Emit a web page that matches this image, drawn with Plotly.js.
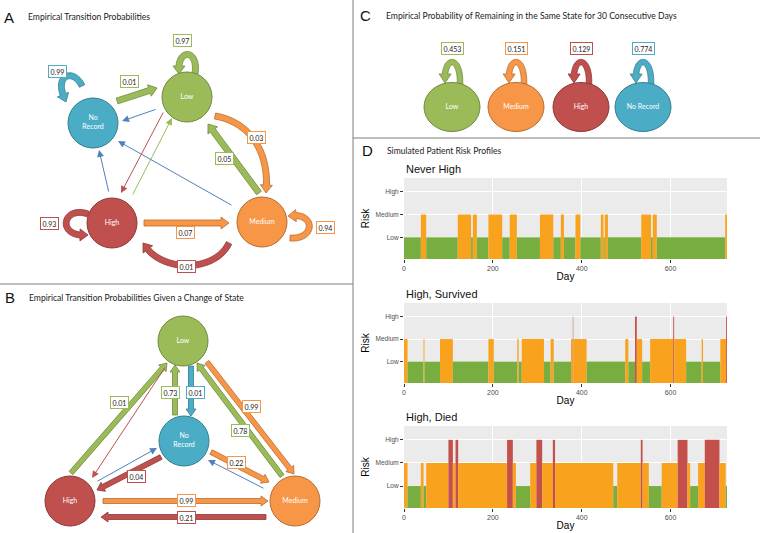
<!DOCTYPE html>
<html><head><meta charset="utf-8">
<script src="https://cdn.plot.ly/plotly-3.0.1.min.js"></script>
<style>html,body{margin:0;padding:0;background:#fff}</style>
</head><body><div id="chart" style="width:760px;height:533px"></div>
<script>
// ================= DATA =================
// Panel A: empirical transition probabilities (null = drawn without a label)
const aFrom = ["No Record","Low","No Record","Low","Medium","High","Medium","High","Medium","Low","Low","High","High","Medium"];
const aTo   = ["No Record","Low","Low","Medium","Low","High","Medium","Medium","High","No Record","High","Low","No Record","No Record"];
const aProb = [0.99,0.97,0.01,0.03,0.05,0.93,0.94,0.07,0.01,null,null,null,null,null];

// Panel B: transition probabilities given a change of state
const bFrom = ["High","No Record","Low","Low","Medium","No Record","No Record","High","Medium","Low","High","Medium"];
const bTo   = ["Low","Low","No Record","Medium","Low","Medium","High","Medium","High","High","No Record","No Record"];
const bProb = [0.01,0.73,0.01,0.99,0.78,0.22,0.04,0.99,0.21,null,null,null];

// Panel C: probability of remaining in the same state for 30 consecutive days
const cStates = ["Low","Medium","High","No Record"];
const cProb   = [0.453,0.151,0.129,0.774];

// Panel D: simulated patient risk profiles (run starts in days, state of each run)
const riskLevels = ["Low","Medium","High"];
const lastDay = 727;
const neverHighStart = [0,38,50,121,151,155,164,190,221,238,254,306,336,353,360,386,397,443,449,452,459,534,556,560,569,723];
const neverHighState = ["L","M","L","M","L","M","L","M","L","M","L","M","L","M","L","M","L","M","L","M","L","M","L","M","L","M"];
const survivedStart = [0,8,44,46,81,110,190,202,255,258,265,315,330,337,376,380,381,411,498,505,520,524,536,554,606,608,635,670,673,712,725];
const survivedState = ["M","L","M","L","M","L","M","L","M","L","M","L","M","L","M","H","M","L","M","L","H","M","L","M","H","M","L","M","L","M","H"];
const diedStart = [0,8,38,44,50,100,110,116,122,232,245,252,284,298,311,335,340,471,480,533,537,551,580,616,638,644,662,677,710,724];
const diedState = ["M","L","M","L","M","H","M","H","M","H","M","L","M","H","M","H","M","L","M","H","M","L","M","H","M","L","M","H","M","L"];
const profileTitles = ["Never High","High, Survived","High, Died"];
const dayTicks = [0,200,400,600];

// ================= STYLE / GEOMETRY =================
const FONT = "Lato, 'Open Sans', sans-serif";
const GG = "'Liberation Sans', Arial, sans-serif";
const fill = {"Low":"#9BBB59","Medium":"#F79646","High":"#C0504D","No Record":"#4BACC6"};
const edge = {"Low":"#71893F","Medium":"#B66D31","High":"#8C3836","No Record":"#357D91"};
const thin = {"Low":"#9BBB59","Medium":"#F79646","High":"#C0504D","No Record":"#4F81BD"};
const riskColor = {L:"#78AD40", M:"#F9A21E", H:"#C4504C"};
const riskLevel = {L:1, M:2, H:3};

const nodesA = {"Low":[187,97],"Medium":[262,222],"High":[112,223],"No Record":[93,123]};
const nodesB = {"Low":[183,341],"Medium":[295,501],"High":[70,501],"No Record":[184,441]};
const nodeR = 25;
const geoA = {
 "No Record>No Record": {pts:[[82,86],[74,68],[52,74],[66,102]], label:[57,71]},
 "Low>Low": {pts:[[195,74],[199,48],[176,48],[179,74]], label:[182,40]},
 "No Record>Low": {pts:[[117,101],[157,88]], label:[129,81]},
 "Low>Medium": {pts:[[215,116],[250,122],[270,152],[266,193]], label:[256,137]},
 "Medium>Low": {pts:[[259,193],[208,124]], label:[224,158]},
 "High>High": {pts:[[88,214],[62,205],[56,238],[88,235]], label:[49,223]},
 "Medium>Medium": {pts:[[290,238],[316,240],[316,211],[288,216]], label:[325,227]},
 "High>Medium": {pts:[[144,223],[229,223]], label:[185,232]},
 "Medium>High": {pts:[[229,243],[215,273],[160,273],[143,243]], label:[186,266]},
 "Low>No Record": {pts:[[157,109],[122,121]]},
 "Low>High": {pts:[[164,111],[121,193]]},
 "High>Low": {pts:[[132,196],[172,118]]},
 "High>No Record": {pts:[[109,193],[99,150]]},
 "Medium>No Record": {pts:[[233,206],[118,141]]}
};
const geoB = {
 "High>Low": {pts:[[71,473],[167,363]], label:[119,402]},
 "No Record>Low": {pts:[[175,415],[175,365]], label:[170,392]},
 "Low>No Record": {pts:[[191,366],[191,416]], label:[195,392]},
 "Low>Medium": {pts:[[207,362],[294,474]], label:[251,406]},
 "Medium>Low": {pts:[[282,476],[197,363]], label:[240,430]},
 "No Record>Medium": {pts:[[211,452],[269,482]], label:[236,462]},
 "No Record>High": {pts:[[161,457],[97,490]], label:[136,476]},
 "High>Medium": {pts:[[103,501],[268,501]], label:[186,500]},
 "Medium>High": {pts:[[266,517],[101,517]], label:[186,517]},
 "Low>High": {pts:[[166,366],[92,478]]},
 "High>No Record": {pts:[[96,482],[157,448]]},
 "Medium>No Record": {pts:[[265,489],[208,460]]}
};
const cCenters = [452,516,581,643], cY = 107, cRx = 28, cRy = 24.5, cLabelY = 48;

// ================= HELPERS =================
function bez(P,t){let p=P.map(q=>q.slice());while(p.length>1){const n=[];for(let i=0;i<p.length-1;i++)n.push([p[i][0]*(1-t)+p[i+1][0]*t,p[i][1]*(1-t)+p[i+1][1]*t]);p=n;}return p[0];}
function arrowPath(P,w,hw,hl){
  const N=P.length===2?2:40; const pts=[];
  for(let i=0;i<=N;i++)pts.push(bez(P,i/N));
  const tip=pts[N]; let k=N;
  while(k>0&&Math.hypot(pts[k][0]-tip[0],pts[k][1]-tip[1])<hl)k--;
  const dx=tip[0]-pts[k][0],dy=tip[1]-pts[k][1],d=Math.hypot(dx,dy),ux=dx/d,uy=dy/d;
  const base=[tip[0]-ux*hl,tip[1]-uy*hl];
  const sh=pts.slice(0,k+1).concat([base]);
  const L=[],R=[];
  for(let i=0;i<sh.length;i++){
    const a=sh[Math.max(0,i-1)],b=sh[Math.min(sh.length-1,i+1)];
    let tx=b[0]-a[0],ty=b[1]-a[1],tl=Math.hypot(tx,ty)||1;tx/=tl;ty/=tl;
    if(i===sh.length-1){tx=ux;ty=uy;}
    const nx=-ty,ny=tx;
    L.push([sh[i][0]+nx*w/2,sh[i][1]+ny*w/2]);R.push([sh[i][0]-nx*w/2,sh[i][1]-ny*w/2]);
  }
  const nx=-uy,ny=ux;
  const hL=[base[0]+nx*hw/2,base[1]+ny*hw/2],hR=[base[0]-nx*hw/2,base[1]-ny*hw/2];
  const poly=L.concat([hL,tip,hR]).concat(R.reverse());
  return "M"+poly.map(p=>p[0].toFixed(2)+","+p[1].toFixed(2)).join(" L")+" Z";
}

const shapes=[], annotations=[];
const txtX=[], txtY=[], txtS=[];
const stateNames=["Low","Medium","High","No Record"];

function addDiagram(from,to,prob,geo,nodes,w,hw,hl){
  for(let i=0;i<from.length;i++){
    const key=from[i]+">"+to[i], g=geo[key], col=to[i];
    if(prob[i]===null){
      const t=g.pts[0],h=g.pts[1];
      annotations.push({x:h[0],y:h[1],ax:t[0],ay:t[1],xref:"x",yref:"y",axref:"x",ayref:"y",
        showarrow:true,arrowhead:2,arrowsize:1.4,arrowwidth:1,arrowcolor:thin[col],text:"",standoff:0});
    } else {
      shapes.push({type:"path",xref:"x",yref:"y",layer:"below",path:arrowPath(g.pts,w,hw,hl),
        fillcolor:fill[col],line:{color:edge[col],width:0.8}});
      annotations.push({x:g.label[0],y:g.label[1],xref:"x",yref:"y",showarrow:false,text:prob[i].toFixed(2),
        font:{family:FONT,size:7,color:"#222"},bgcolor:"#fff",bordercolor:fill[col],borderwidth:1,borderpad:1.5});
    }
  }
  for(const s of stateNames){
    const c=nodes[s];
    shapes.push({type:"circle",xref:"x",yref:"y",layer:"below",x0:c[0]-nodeR,x1:c[0]+nodeR,y0:c[1]-nodeR,y1:c[1]+nodeR,
      fillcolor:fill[s],line:{color:edge[s],width:1}});
    txtX.push(c[0]);txtY.push(c[1]);txtS.push(s==="No Record"?"No<br>Record":s);
  }
}
addDiagram(aFrom,aTo,aProb,geoA,nodesA,6,12,8);
addDiagram(bFrom,bTo,bProb,geoB,nodesB,5,10,7);

// Panel C
cStates.forEach((s,i)=>{
  const cx=cCenters[i];
  shapes.push({type:"path",xref:"x",yref:"y",layer:"below",
    path:arrowPath([[cx+8,84],[cx+9,55],[cx-9,55],[cx-7,83]],5.5,12,9),fillcolor:fill[s],line:{color:edge[s],width:0.8}});
  shapes.push({type:"circle",xref:"x",yref:"y",layer:"below",x0:cx-cRx,x1:cx+cRx,y0:cY-cRy,y1:cY+cRy,
    fillcolor:fill[s],line:{color:edge[s],width:1}});
  txtX.push(cx);txtY.push(cY);txtS.push(s);
  annotations.push({x:cx,y:cLabelY,xref:"x",yref:"y",showarrow:false,text:cProb[i].toFixed(3),
    font:{family:FONT,size:7,color:"#222"},bgcolor:"#fff",bordercolor:fill[s],borderwidth:1,borderpad:1.5});
});

// dividers
const divider={color:"#7f7f7f",width:1};
shapes.push({type:"line",xref:"x",yref:"y",layer:"below",x0:353,x1:353,y0:0,y1:533,line:divider});
shapes.push({type:"line",xref:"x",yref:"y",layer:"below",x0:0,x1:353,y0:284,y1:284,line:divider});
shapes.push({type:"line",xref:"x",yref:"y",layer:"below",x0:353,x1:760,y0:138,y1:138,line:divider});

// panel letters and titles
const heads=[["A",9,17,"Empirical Transition Probabilities",26,17],
             ["B",10,297,"Empirical Transition Probabilities Given a Change of State",27,298],
             ["C",365,15,"Empirical Probability of Remaining in the Same State for 30 Consecutive Days",384,16],
             ["D",367,150,"Simulated Patient Risk Profiles",385,151]];
heads.forEach(h=>{
  annotations.push({x:h[1],y:h[2],xref:"x",yref:"y",showarrow:false,text:h[0],font:{family:GG,size:15,color:"#111"}});
  annotations.push({x:h[4],y:h[5],xref:"x",yref:"y",xanchor:"left",showarrow:false,text:h[3],font:{family:FONT,size:8.6,color:"#222"}});
});

// ================= TRACES =================
const traces=[{type:"scatter",mode:"text",x:txtX,y:txtY,text:txtS,textfont:{family:FONT,size:7,color:"#fff"},
  xaxis:"x",yaxis:"y",hoverinfo:"skip",cliponaxis:false}];

function runsToBar(starts,states,ax,ay){
  const x=[],w=[],y=[],c=[];
  for(let i=0;i<starts.length;i++){
    const s=starts[i],e=i+1<starts.length?starts[i+1]:lastDay;
    x.push((s+e)/2);w.push(e-s);y.push(riskLevel[states[i]]);c.push(riskColor[states[i]]);
  }
  return {type:"bar",x,y,width:w,base:0,marker:{color:c,line:{width:0}},xaxis:ax,yaxis:ay,hoverinfo:"skip"};
}
traces.push(runsToBar(neverHighStart,neverHighState,"x2","y2"));
traces.push(runsToBar(survivedStart,survivedState,"x3","y3"));
traces.push(runsToBar(diedStart,diedState,"x4","y4"));

// ================= LAYOUT =================
const H=533,W=760;
const xDom=[404/W,727/W];
const plotBoxes=[[178,259],[303,383],[426,508]]; // top,bottom pixels
const layout={width:W,height:H,margin:{l:0,r:0,t:0,b:0},paper_bgcolor:"#fff",plot_bgcolor:"rgba(0,0,0,0)",
  showlegend:false,hovermode:false,barmode:"overlay",
  xaxis:{domain:[0,1],range:[0,W],visible:false,fixedrange:true},
  yaxis:{domain:[0,1],range:[H,0],visible:false,fixedrange:true},
  shapes,annotations};
plotBoxes.forEach((b,i)=>{
  const n=i+2;
  layout["xaxis"+n]={domain:xDom,anchor:"y"+n,range:[0,lastDay],tickvals:dayTicks,ticktext:dayTicks.map(String),
    showgrid:true,gridcolor:"#fff",gridwidth:1,zeroline:false,showline:false,ticks:"outside",ticklen:3,tickcolor:"#333",
    tickfont:{family:GG,size:7,color:"#4D4D4D"},title:{text:"Day",font:{family:GG,size:10,color:"#000"},standoff:1}};
  layout["yaxis"+n]={domain:[1-b[1]/H,1-b[0]/H],anchor:"x"+n,range:[0.05,3.6],tickvals:[1,2,3],ticktext:riskLevels,
    showgrid:true,gridcolor:"#fff",gridwidth:1,zeroline:false,showline:false,ticks:"outside",ticklen:3,tickcolor:"#333",
    tickfont:{family:GG,size:6.5,color:"#4D4D4D"},title:{text:"Risk",font:{family:GG,size:10,color:"#000"},standoff:4}};
  shapes.push({type:"rect",xref:"x"+n+" domain",yref:"y"+n+" domain",x0:0,x1:1,y0:0,y1:1,fillcolor:"#EBEBEB",line:{width:0},layer:"below"});
  annotations.push({x:404,y:b[0]-9,xref:"x",yref:"y",xanchor:"left",showarrow:false,text:profileTitles[i],
    font:{family:GG,size:11,color:"#111"}});
});

Plotly.newPlot("chart",traces,layout,{staticPlot:true,displayModeBar:false});
</script></body></html>
